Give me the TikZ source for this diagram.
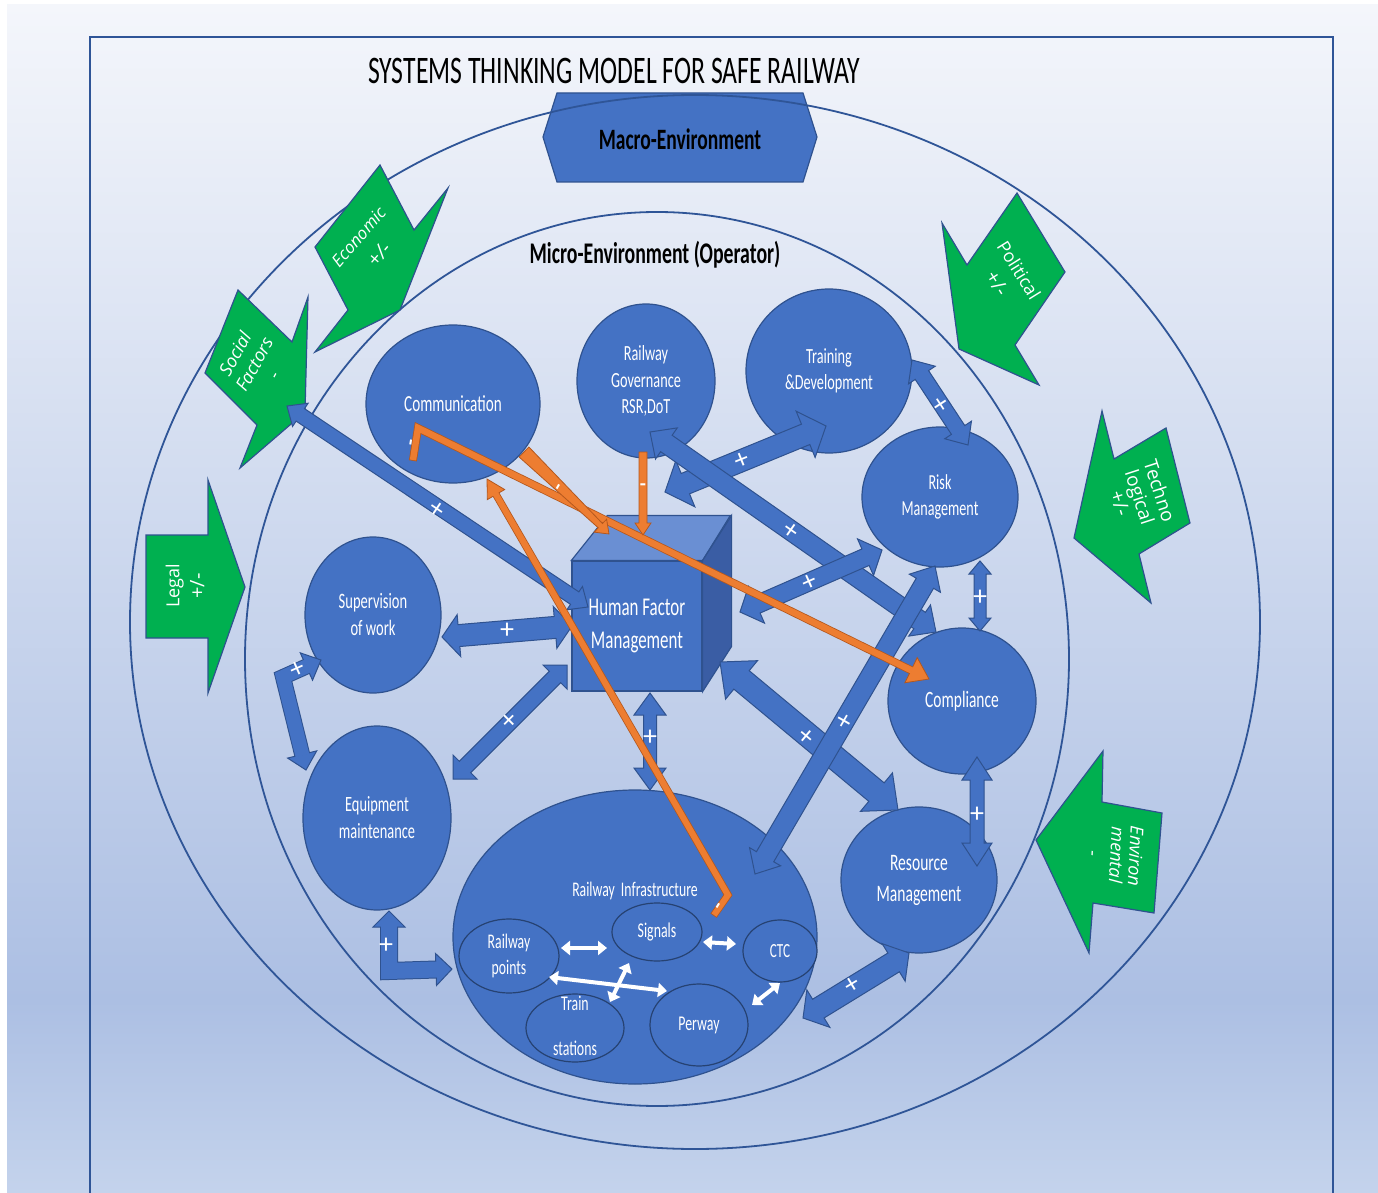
\documentclass[tikz,border=0pt]{standalone}
\usepackage{fontspec}
\setmainfont{Carlito}
\newfontfamily\cond{Carlito}[FakeStretch=0.66]
\newfontfamily\gsans{Open Sans}
\usetikzlibrary{calc,shapes.geometric,arrows.meta}

\definecolor{bgtop}{HTML}{F4F6FB}
\definecolor{bgmid}{HTML}{ACBFE3}
\definecolor{bgbot}{HTML}{C4D3EC}
\definecolor{ringline}{HTML}{2F5597}
\definecolor{nodeblue}{HTML}{4472C4}
\definecolor{nodeline}{HTML}{2F528F}
\definecolor{cubetop}{HTML}{6A8FD3}
\definecolor{cubeside}{HTML}{3A5DA4}
\definecolor{greenf}{HTML}{00B050}
\definecolor{orangef}{HTML}{ED7D31}
\definecolor{oranged}{HTML}{B4581E}

\newcommand\fsz[2]{\fontsize{#1}{#2}\selectfont}

% straight block arrow with a head at both ends: [style]{A}{B}{half shaft}{half head}{head length}
\newcommand\dblarr[6][blk]{%
  \coordinate (qa) at ($(#2)!#6!(#3)$);
  \coordinate (qb) at ($(#3)!#6!(#2)$);
  \filldraw[#1] (#2)
    -- ($(qa)!#5!90:(#3)$) -- ($(qa)!#4!90:(#3)$)
    -- ($(qb)!#4!-90:(#2)$) -- ($(qb)!#5!-90:(#2)$)
    -- (#3)
    -- ($(qb)!#5!90:(#2)$) -- ($(qb)!#4!90:(#2)$)
    -- ($(qa)!#4!-90:(#3)$) -- ($(qa)!#5!-90:(#3)$)
    -- cycle;}

% straight block arrow, head at B, shaft tapering: [style]{A}{B}{start half}{end half}{half head}{head length}
\newcommand\taperarr[7][org]{%
  \coordinate (qb) at ($(#3)!#7!(#2)$);
  \filldraw[#1] ($(#2)!#4!90:(#3)$)
    -- ($(qb)!#5!-90:(#2)$) -- ($(qb)!#6!-90:(#2)$)
    -- (#3)
    -- ($(qb)!#6!90:(#2)$) -- ($(qb)!#5!90:(#2)$)
    -- ($(#2)!#4!-90:(#3)$) -- cycle;}

% bent block arrow with heads at both ends: {fill}{edge}{A}{corner}{B}{shaft width}{half head}{head length}
\newcommand\bentdbl[8]{%
  \coordinate (qa) at ($(#3)!#8!(#4)$);
  \coordinate (qb) at ($(#5)!#8!(#4)$);
  \draw[draw=#2, line width=#6+1pt, line join=miter] (qa) -- (#4) -- (qb);
  \filldraw[fill=#1, draw=#2, line width=0.5pt, line join=miter] (#3) -- ($(qa)!#7!90:(#4)$) -- ($(qa)!#7!-90:(#4)$) -- cycle;
  \filldraw[fill=#1, draw=#2, line width=0.5pt, line join=miter] (#5) -- ($(qb)!#7!90:(#4)$) -- ($(qb)!#7!-90:(#4)$) -- cycle;
  \draw[draw=#1, line width=#6, line join=miter] ($(qa)!-0.6pt!(#4)$) -- (#4) -- ($(qb)!-0.6pt!(#4)$);}

% bent block arrow with a head at B only: {fill}{edge}{S}{corner}{B}{shaft width}{half head}{head length}
\newcommand\bentsgl[8]{%
  \coordinate (qb) at ($(#5)!#8!(#4)$);
  \draw[draw=#2, line width=#6+0.8pt, line join=miter] ($(#3)!-0.4pt!(#4)$) -- (#4) -- (qb);
  \filldraw[fill=#1, draw=#2, line width=0.4pt, line join=miter] (#5) -- ($(qb)!#7!90:(#4)$) -- ($(qb)!#7!-90:(#4)$) -- cycle;
  \draw[draw=#1, line width=#6, line join=miter] (#3) -- (#4) -- ($(qb)!-0.6pt!(#4)$);}

\tikzset{
  ring/.style={draw=ringline, line width=0.9pt},
  bubble/.style 2 args={ellipse, fill=nodeblue, draw=nodeline, line width=0.6pt, inner sep=0pt,
    minimum width=#1pt, minimum height=#2pt, text=white, align=center},
  subbubble/.style 2 args={ellipse, fill=nodeblue, draw=nodeline!80!black, line width=0.6pt, inner sep=0pt,
    minimum width=#1pt, minimum height=#2pt, text=white, align=center},
  blk/.style={fill=nodeblue, draw=nodeline, line width=0.5pt, line join=miter},
  org/.style={fill=orangef, draw=oranged, line width=0.4pt, line join=miter},
  grn/.style={fill=greenf, draw=nodeline, line width=0.6pt, line join=miter},
  gtext/.style={text=white, align=center, inner sep=0pt},
  wtext/.style={text=white, inner sep=0pt},
  plus/.style={text=white, inner sep=0pt, font=\fsz{14}{14}},
  minus/.style={text=white, inner sep=0pt, font=\bfseries\fsz{10}{10}},
  warrow/.style={draw=white, line width=2pt, {Triangle[length=4.5pt,width=7pt]}-{Triangle[length=4.5pt,width=7pt]}},
}

\begin{document}
\begin{tikzpicture}[x=0.5pt,y=-0.5pt]
\useasboundingbox (0,0) rectangle (1378,1193);

% page background and frame
\fill[white] (0,0) rectangle (1378,1193);
\shade[top color=bgtop, bottom color=bgmid] (7,5) rectangle (1378,1000);
\shade[top color=bgmid, bottom color=bgbot] (7,1000) rectangle (1378,1193);
\draw[draw=ringline, line width=0.8pt] (90,1193) -- (90,37) -- (1333,37) -- (1333,1193);

\node[font=\cond\fsz{19.5}{22}] (title) at (614,71) {SYSTEMS THINKING MODEL FOR SAFE RAILWAY};

% macro-environment banner
\filldraw[blk, line width=0.6pt] (557,93) -- (803,93) -- (817,137) -- (803,182) -- (557,182) -- (543,137) -- cycle;
\node[font=\cond\bfseries\fsz{14.8}{16}] (macroT) at (680,139) {Macro-Environment};

% environment rings
\draw[ring] (695,622) ellipse [x radius=565, y radius=527];
\draw[ring] (657,659) ellipse [x radius=412, y radius=447];
\node[font=\cond\bfseries\fsz{15}{16}] (microT) at (655,255) {Micro-Environment (Operator)};

% external factor arrows
\filldraw[grn] (380,165) -- (414,230) -- (448,188) -- (400,310) -- (315,352) -- (348,310) -- (315,247) -- cycle;
\node[gtext, rotate=49, font=\gsans\itshape\fsz{8.5}{14}] (econ) at (369,246) {Economic\\{\fsz{10}{14}+/-}};
\filldraw[grn] (238,290) -- (292,342) -- (308,297) -- (305,412) -- (240,468) -- (257,425) -- (205,373) -- cycle;
\node[gtext, rotate=61, font=\gsans\itshape\fsz{9}{11}] (social) at (254,364) {Social\\Factors\\-};
\filldraw[grn] (146,535) -- (208,535) -- (208,480) -- (245,587) -- (208,693) -- (208,638) -- (146,638) -- cycle;
\node[gtext, rotate=90, font=\gsans\fsz{9}{12.5}] (legal) at (185,586) {Legal\\{\fsz{10}{12.5}+/-}};
\filldraw[grn] (1017,193) -- (1065,272) -- (1015,345) -- (1039,385) -- (959,349) -- (942,223) -- (967,265) -- cycle;
\node[gtext, rotate=-58, font=\gsans\fsz{9}{13}] (polit) at (1008,277) {Political\\{\fsz{10}{13}+/-}};
\filldraw[grn] (1102,411) -- (1114,459) -- (1166,428) -- (1190,523) -- (1139,554) -- (1151,603) -- (1074,538) -- cycle;
\node[gtext, rotate=-72, font=\gsans\fsz{9.5}{10.5}] (techno) at (1140,497) {Techno\\logical\\{\fsz{10}{12}+/-}};
\filldraw[grn] (1103,751) -- (1102,802) -- (1162,813) -- (1154,913) -- (1093,903) -- (1089,953) -- (1036,840) -- cycle;
\node[gtext, rotate=-93, font=\gsans\itshape\fsz{9}{9.5}] (environ) at (1115,855) {Environ\\mental\\[2pt]-};

% operator elements
\node[bubble={87}{79}, font=\cond\fsz{11.5}{14}] (comm) at (453,404) {Communication};
\node[bubble={69}{77}, font=\cond\fsz{10.8}{13.25}] (gov) at (646,381) {Railway\\Governance\\RSR,DoT};
\node[bubble={83}{82}, font=\cond\fsz{10.8}{13}] (train) at (829,371) {Training\\\&Development};
\node[bubble={78}{70}, font=\cond\fsz{10.7}{13}] (risk) at (940,497) {Risk\\Management};
\node[bubble={74}{73}, font=\cond\fsz{11.7}{14}] (compl) at (962,701) {Compliance};
\node[bubble={78}{73}, font=\cond\fsz{11.8}{15.5}] (res) at (919,880) {Resource\\Management};
\node[bubble={68}{78}, font=\cond\fsz{11}{13.5}] (sup) at (373,615) {Supervision\\of work};
\node[bubble={74}{92}, font=\cond\fsz{10.9}{13.5}] (equip) at (377,818) {Equipment\\maintenance};

% infrastructure group
\node[bubble={182}{147}] (infra) at (635,937) {};
\node[wtext, font=\cond\fsz{10.4}{12}] (infraLbl) at (635,891) {Railway\ \ Infrastructure};
\node[subbubble={50}{37}, font=\cond\fsz{10.4}{13}] (pts) at (509,956) {Railway\\points};
\node[subbubble={45}{29}, font=\cond\fsz{10.5}{12}] (sig) at (657,932) {Signals};
\node[subbubble={37}{31}, font=\cond\fsz{10}{12}] (ctc) at (780,951) {CTC};
\node[subbubble={49}{34}] (stn) at (575,1028) {};
\node[wtext, font=\cond\fsz{10.5}{12}] (stnA) at (575,1003) {Train};
\node[wtext, font=\cond\fsz{10.5}{12}] (stnB) at (575,1048) {stations};
\node[subbubble={49}{41}, font=\cond\fsz{10.5}{12}] (per) at (699,1025) {Perway};

% human factor cube
\node[draw=nodeline, fill=nodeblue, line width=0.6pt, minimum width=65pt, minimum height=65pt,
  inner sep=0pt, text=white, align=center, font=\cond\fsz{12.8}{16.5}] (hfm) at (637,626) {Human Factor\\Management};
\filldraw[fill=cubetop, draw=nodeline, line width=0.6pt] (hfm.north west) -- ++(36,-45) -- ++(123,0) -- (hfm.north east) -- cycle;
\filldraw[fill=cubeside, draw=nodeline, line width=0.6pt] (hfm.north east) -- ++(29,-45) -- ++(0,131) -- (hfm.south east) -- cycle;

% connector end points on the element borders
\coordinate (e-soc) at (287,406);   \coordinate (e-hfm1) at (588,607);
\coordinate (e-sup) at (442,637);   \coordinate (e-hfm2) at (572,626);
\coordinate (e-eq)  at (453,779);   \coordinate (e-hfm3) at (567,665);
\coordinate (e-hfm4) at (650,693);  \coordinate (e-inf1) at (650,790);
\coordinate (e-hfm5) at (720,662);  \coordinate (e-res1) at (898,810);
\coordinate (e-gov1) at (650,432);  \coordinate (e-com1) at (936,632);
\coordinate (e-gov2) at (665,492);  \coordinate (e-trn1) at (826,426);
\coordinate (e-trn2) at (912,360);  \coordinate (e-rsk1) at (968,445);
\coordinate (e-hfm6) at (740,612);  \coordinate (e-rsk2) at (882,550);
\coordinate (e-rsk3) at (935,566);  \coordinate (e-ctc1) at (755,874);
\coordinate (e-rsk4) at (980,561);  \coordinate (e-com2) at (980,631);
\coordinate (e-com3) at (977,757);  \coordinate (e-res2) at (977,866);
\coordinate (e-ctc2) at (803,1018); \coordinate (e-res3) at (909,953);
\coordinate (e-sup2) at (321,660);  \coordinate (k-se) at (283,677);  \coordinate (e-eq2) at (306,770);
\coordinate (e-eq3) at (389,911);   \coordinate (k-ei) at (389,971);  \coordinate (e-inf2) at (452,969);

% infrastructure links
\coordinate (w-pts1) at (561,948); \coordinate (w-sig1) at (607,948);
\coordinate (w-sig2) at (703,942); \coordinate (w-ctc1) at (736,944);
\coordinate (w-pts2) at (549,977); \coordinate (w-per1) at (667,991);
\coordinate (w-stn)  at (610,1002); \coordinate (w-sig3) at (629,963);
\coordinate (w-per2) at (752,1005); \coordinate (w-ctc2) at (780,983);
\draw[warrow] (w-pts1) -- (w-sig1);
\draw[warrow] (w-sig2) -- (w-ctc1);
\draw[warrow] (w-pts2) -- (w-per1);
\draw[warrow] (w-stn) -- (w-sig3);
\draw[warrow] (w-per2) -- (w-ctc2);

% positive influence links
\dblarr{e-soc}{e-hfm1}{3.75pt}{7pt}{8pt}
\dblarr{e-sup}{e-hfm2}{5.5pt}{10.5pt}{8.5pt}
\dblarr{e-eq}{e-hfm3}{4pt}{8.5pt}{8.5pt}
\dblarr{e-hfm4}{e-inf1}{3.25pt}{8pt}{11pt}
\dblarr{e-hfm5}{e-res1}{6pt}{12.5pt}{14pt}
\dblarr{e-gov2}{e-trn1}{5.5pt}{12.5pt}{11pt}
\dblarr{e-gov1}{e-com1}{5pt}{9.5pt}{10pt}
\dblarr{e-trn2}{e-rsk1}{4pt}{8pt}{9pt}
\dblarr{e-hfm6}{e-rsk2}{4.5pt}{10pt}{9pt}
\dblarr{e-rsk3}{e-ctc1}{5pt}{9pt}{10pt}
\dblarr{e-rsk4}{e-com2}{3pt}{5.5pt}{6.5pt}
\dblarr{e-com3}{e-res2}{3.5pt}{7.5pt}{11.5pt}
\dblarr{e-ctc2}{e-res3}{5.5pt}{11pt}{9pt}
\bentdbl{nodeblue}{nodeline}{e-sup2}{k-se}{e-eq2}{7pt}{7.5pt}{8pt}
\bentdbl{nodeblue}{nodeline}{e-eq3}{k-ei}{e-inf2}{8pt}{8pt}{8pt}

% negative influence links
\coordinate (o-com1) at (413,460); \coordinate (k-o1) at (418,428); \coordinate (o-cpl) at (929,679);
\coordinate (o-com2) at (524,452); \coordinate (o-hfm1) at (609,534);
\coordinate (o-gov) at (643,452);  \coordinate (o-hfm2) at (643,535);
\coordinate (o-inf) at (714,915);  \coordinate (k-o4) at (728,895); \coordinate (o-com3) at (487,479);
\bentsgl{orangef}{oranged}{o-com1}{k-o1}{o-cpl}{3.2pt}{7pt}{10pt}
\taperarr{o-com2}{o-hfm1}{3.5pt}{1.5pt}{4.5pt}{6pt}
\taperarr{o-gov}{o-hfm2}{2pt}{2pt}{4pt}{6pt}
\bentsgl{orangef}{oranged}{o-inf}{k-o4}{o-com3}{3pt}{5pt}{9pt}

% link signs
\node[plus, rotate=-34] at (437,510) {+};
\node[plus] at (507,631) {+};
\node[plus, rotate=45] at (510,721) {+};
\node[plus, rotate=24] at (298,670) {+};
\node[plus] at (650,738) {+};
\node[plus, rotate=-40] at (806,737) {+};
\node[plus, rotate=-35] at (791,531) {+};
\node[plus, rotate=22] at (742,461) {+};
\node[plus, rotate=-57] at (940,405) {+};
\node[plus, rotate=24] at (810,583) {+};
\node[plus, rotate=60] at (845,722) {+};
\node[plus] at (980,598) {+};
\node[plus] at (977,815) {+};
\node[plus, rotate=31] at (853,985) {+};
\node[plus] at (386,946) {+};
\node[minus, rotate=80] at (413,443) {-};
\node[minus, rotate=60] at (560,488) {-};
\node[minus] at (643,487) {-};
\node[minus, rotate=58] at (720,907) {-};
\end{tikzpicture}
\end{document}
